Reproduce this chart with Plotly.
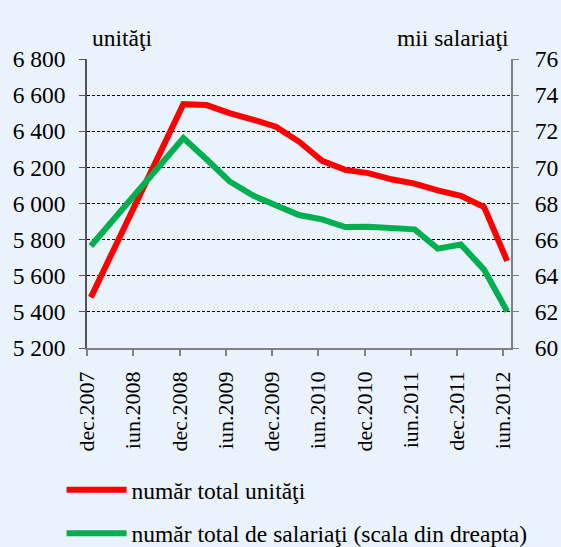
import plotly.graph_objects as go

# ---- data ----
periods = ["2007-12", "2008-12", "2009-03", "2009-06", "2009-09", "2009-12",
           "2010-03", "2010-06", "2010-09", "2010-12", "2011-03", "2011-06",
           "2011-09", "2011-12", "2012-03", "2012-06"]
units = [5480, 6550, 6545, 6500, 6465, 6425, 6343, 6236, 6186, 6168,
         6134, 6110, 6073, 6042, 5981, 5682]
employees = [65.65, 71.62, 70.45, 69.22, 68.45, 67.90, 67.36, 67.12, 66.70,
             66.71, 66.64, 66.57, 65.50, 65.73, 64.34, 62.03]
tick_periods = ["2007-12", "2008-06", "2008-12", "2009-06", "2009-12",
                "2010-06", "2010-12", "2011-06", "2011-12", "2012-06"]
tick_labels = ["dec.2007", "iun.2008", "dec.2008", "iun.2009", "dec.2009",
               "iun.2010", "dec.2010", "iun.2011", "dec.2011", "iun.2012"]
name_units = "număr total unităţi"
name_emp = "număr total de salariaţi (scala din dreapta)"
left_title = "unităţi"
right_title = "mii salariaţi"


def month_index(p):
    y, m = p.split("-")
    return (int(y) - 2007) * 12 + int(m) - 12


x_pts = [month_index(p) + 0.5 for p in periods]
x_ticks = [month_index(p) for p in tick_periods]

FONT = "Liberation Serif"
FS = 23.5
BG = "#EAF2FB"

fig = go.Figure()
fig.add_trace(go.Scatter(x=x_pts, y=units, mode="lines", name=name_units,
                         legendgroup="a",
                         line=dict(color="#FF0000", width=6)))
fig.add_trace(go.Scatter(x=x_pts, y=employees, mode="lines", name=name_emp,
                         legendgroup="b", yaxis="y2",
                         line=dict(color="#00B050", width=6)))

fig.update_layout(
    template="none",
    width=561, height=547,
    paper_bgcolor=BG, plot_bgcolor=BG,
    margin=dict(l=87, r=50, t=59, b=199, autoexpand=False),
    font=dict(family=FONT, size=FS, color="#000000"),
    separators=", ",
    showlegend=True,
    legend=dict(x=-0.06, xanchor="left", y=-0.415, yanchor="top",
                orientation="v", tracegroupgap=10,
                bgcolor="rgba(0,0,0,0)", itemwidth=60,
                font=dict(family=FONT, size=FS)),
    xaxis=dict(range=[0, month_index("2012-07")], tickvals=x_ticks,
               ticktext=tick_labels, tickangle=-90,
               tickfont=dict(family=FONT, size=22),
               showgrid=False, zeroline=False, automargin=False,
               showline=True, linecolor="#808080", linewidth=1.5,
               ticks="outside", ticklen=6, tickcolor="#808080", tickwidth=1.5,
               ticklabelstandoff=7),
    yaxis=dict(range=[5200, 6800], dtick=200, tickformat=",d",
               showgrid=True, gridcolor="#000000", gridwidth=1,
               griddash="3px,2px", zeroline=False, automargin=False,
               showline=True, linecolor="#555555", linewidth=1.5,
               ticks="outside", ticklen=6, tickcolor="#555555",
               ticklabelstandoff=9),
    yaxis2=dict(range=[60, 76], dtick=2, overlaying="y", side="right",
                showgrid=False, zeroline=False, automargin=False,
                showline=True, linecolor="#808080", linewidth=2,
                ticks="outside", ticklen=6, tickcolor="#808080",
                ticklabelstandoff=11),
    annotations=[
        dict(text=left_title, xref="paper", yref="paper", x=0.007, y=1.022,
             xanchor="left", yanchor="bottom", showarrow=False,
             font=dict(family=FONT, size=FS)),
        dict(text=right_title, xref="paper", yref="paper", x=1.0, y=1.022,
             xanchor="right", yanchor="bottom", showarrow=False,
             font=dict(family=FONT, size=FS)),
    ],
)

fig.write_html("out.html", config={"displayModeBar": False},
               post_script="document.body.style.margin='0';"
                           "document.body.style.overflow='hidden';")
